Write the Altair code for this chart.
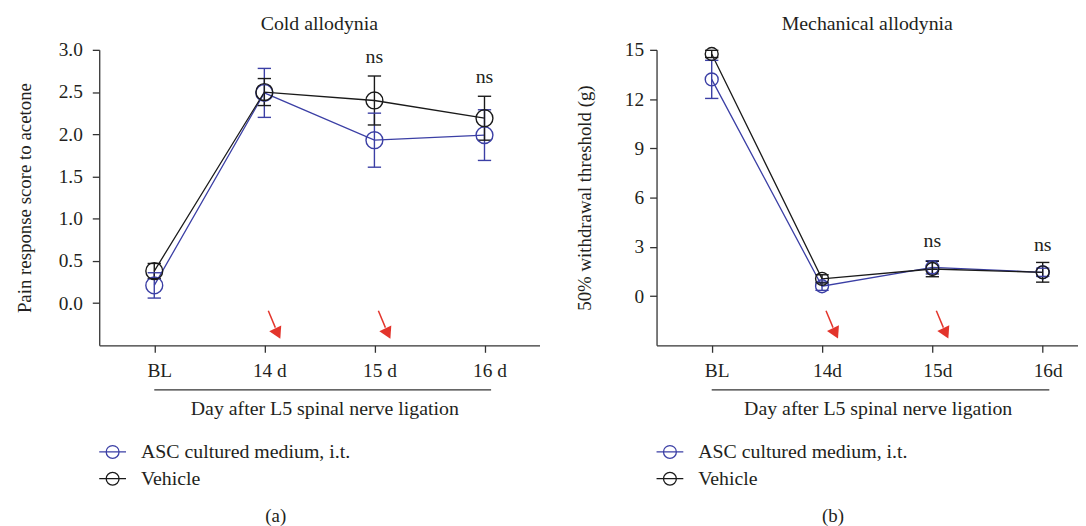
import altair as alt
import pandas as pd

FONT = "Liberation Serif"
BLUE = "#3b3fa5"
BLACK = "#1a1a1a"
RED = "#e3342b"
TXT = "#231f20"
AX = "#333333"

# ---------------- data ----------------
groups = ["ASC cultured medium, i.t.", "Vehicle"]
day_index = [0, 1, 2, 3]
labels_cold = ["BL", "14 d", "15 d", "16 d"]
labels_mech = ["BL", "14d", "15d", "16d"]

cold_asc_mean = [0.21, 2.49, 1.93, 1.99]
cold_asc_sem = [0.15, 0.29, 0.32, 0.30]
cold_veh_mean = [0.38, 2.50, 2.40, 2.19]
cold_veh_sem = [0.09, 0.16, 0.29, 0.26]

mech_asc_mean = [13.2, 0.60, 1.75, 1.45]
mech_asc_sem = [1.16, 0.25, 0.40, 0.25]
mech_veh_mean = [14.75, 1.05, 1.65, 1.45]
mech_veh_sem = [0.22, 0.25, 0.47, 0.60]

ns_day = [2, 3]
cold_ns_y = [2.92, 2.68]
mech_ns_y = [3.37, 3.13]

# red arrows (injection days): start / shaft end / head, offsets from the day
arrow_day = [1, 2]
arrow_dx = [0.036, 0.10, 0.122]
cold_arrow_y = [-0.09, -0.29, -0.36]
mech_arrow_y = [-0.89, -1.92, -2.27]

cold_yticks = [0, 0.5, 1.0, 1.5, 2.0, 2.5, 3.0]
mech_yticks = [0, 3, 6, 9, 12, 15]

LEGEND_PATH = ("M-1,0L-0.48,0M0.48,0L1,0"
               "M-0.48,0A0.48,0.48,0,1,1,0.48,0A0.48,0.48,0,1,1,-0.48,0Z"
               "M-0.48,0L0.48,0")


def make_panel(labels, asc_m, asc_s, veh_m, veh_s, ydom, yvals, yfmt, ytitle,
               title, ns_y, arrow_y, width, xmax, psize, caption,
               ylabpad, ytitlepad, xtitlex):
    rows = []
    for g, m, s in ((groups[0], asc_m, asc_s), (groups[1], veh_m, veh_s)):
        for i in range(len(day_index)):
            rows.append(dict(group=g, day=day_index[i], mean=m[i],
                             lo=m[i] - s[i], hi=m[i] + s[i]))
    df = pd.DataFrame(rows)

    lab = "[" + ",".join(f"'{l}'" for l in labels) + "][datum.value]"
    xs = alt.Scale(domain=[-0.5, xmax], nice=False, zero=False)
    ys = alt.Scale(domain=ydom, nice=False, zero=False)
    xaxis = alt.Axis(values=day_index, labelExpr=lab, labelOffset=5, labelPadding=9,
                     title="Day after L5 spinal nerve ligation", titleFontSize=20,
                     titleX=xtitlex, titleY=64, titleBaseline="middle")
    yaxis = alt.Axis(values=yvals, format=yfmt, title=ytitle, titleFontSize=19,
                     labelPadding=ylabpad, titlePadding=ytitlepad)
    legend = alt.Legend(title=None, orient="none", legendX=-1, legendY=391,
                        symbolType=LEGEND_PATH, symbolSize=729,
                        symbolStrokeWidth=1.3, symbolFillColor="transparent",
                        labelFont=FONT, labelFontSize=20, labelColor=TXT,
                        labelLimit=500, labelOffset=14, rowPadding=2, padding=0)
    color = alt.Color("group:N", scale=alt.Scale(domain=groups, range=[BLUE, BLACK]),
                      legend=legend)

    def X(f):
        return alt.X(f, type="quantitative", scale=xs, axis=xaxis)

    def Y(f):
        return alt.Y(f, type="quantitative", scale=ys, axis=yaxis)

    base = alt.Chart(df)
    line = base.mark_line(strokeWidth=1.3).encode(x=X("day"), y=Y("mean"), color=color)
    bars = base.mark_rule(strokeWidth=1.4).encode(x=X("day"), y=Y("lo"), y2="hi:Q", color=color)
    caps = base.transform_fold(["lo", "hi"], as_=["end", "v"]).mark_point(
        shape="stroke", size=180, strokeWidth=1.4, opacity=1
    ).encode(x=X("day"), y=Y("v"), color=color)
    pts = base.mark_point(filled=False, size=psize, strokeWidth=1.4, opacity=1).encode(
        x=X("day"), y=Y("mean"), color=color)

    ns = alt.Chart(pd.DataFrame({"day": ns_day, "y": ns_y})).mark_text(
        text="ns", font=FONT, fontSize=20, color=TXT
    ).encode(x=X("day"), y=Y("y"))

    adf = pd.DataFrame({
        "xs": [d + arrow_dx[0] for d in arrow_day],
        "xe": [d + arrow_dx[1] for d in arrow_day],
        "xh": [d + arrow_dx[2] for d in arrow_day],
        "ys": [arrow_y[0]] * len(arrow_day),
        "ye": [arrow_y[1]] * len(arrow_day),
        "yh": [arrow_y[2]] * len(arrow_day),
    })
    ashaft = alt.Chart(adf).mark_rule(color=RED, strokeWidth=1.5).encode(
        x=X("xs"), x2="xe:Q", y=Y("ys"), y2="ye:Q")
    ahead = alt.Chart(adf).mark_point(shape="triangle-down", filled=True, color=RED,
                                      size=180, angle=334, opacity=1).encode(
        x=X("xh"), y=Y("yh"))

    one = alt.Data(values=[{"a": 0}])
    underline = alt.Chart(one).mark_rule(color=AX, strokeWidth=1.3).encode(
        x=alt.datum(0.0), x2=alt.datum(3.06), y=alt.value(343))
    cap = alt.Chart(one).mark_text(text=caption, font=FONT, fontSize=19, color=TXT,
                                   baseline="middle").encode(
        x=alt.value(178), y=alt.value(470))

    return alt.layer(line, bars, caps, pts, ns, ashaft, ahead, underline, cap).properties(
        width=width, height=298,
        title=alt.TitleParams(title, font=FONT, fontSize=20, fontWeight="normal",
                              color=TXT, offset=6, anchor="middle"),
    )


left = make_panel(labels_cold, cold_asc_mean, cold_asc_sem, cold_veh_mean, cold_veh_sem,
                  [-0.5, 3.0], cold_yticks, ".1f", "Pain response score to acetone",
                  "Cold allodynia", cold_ns_y, cold_arrow_y, 444, 3.5, 289, "(a)",
                  10, 24, 227)
right = make_panel(labels_mech, mech_asc_mean, mech_asc_sem, mech_veh_mean, mech_veh_sem,
                   [-3, 15], mech_yticks, "d", "50% withdrawal threshold (g)",
                   "Mechanical allodynia", mech_ns_y, mech_arrow_y, 425, 3.32, 169, "(b)",
                   6, 30, 223)

chart = alt.hconcat(left, right, spacing=36).resolve_scale(
    color="independent"
).configure_view(stroke=None).configure_axis(
    grid=False, domainColor=AX, domainWidth=1.3, tickColor=AX, tickWidth=1.3,
    tickSize=7, labelFont=FONT, labelFontSize=19.5, labelColor=TXT,
    titleFont=FONT, titleFontSize=19, titleFontWeight="normal", titleColor=TXT,
).properties(padding={"left": 7, "top": 4, "right": 0, "bottom": 0})

chart.save("out.html", embed_options={"renderer": "svg", "actions": False})
